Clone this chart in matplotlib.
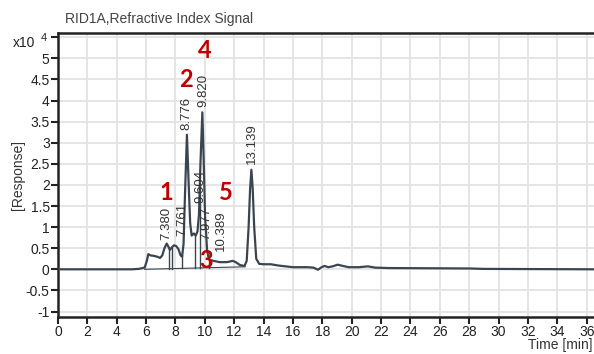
import numpy as np
import matplotlib
matplotlib.use('Agg')
import matplotlib.pyplot as plt

plt.rcParams['font.family'] = ['Liberation Sans', 'DejaVu Sans']

# traced RID signal, time in min, response in x10^4
time = [0.0, 5.0, 5.5, 5.9, 6.05, 6.15, 6.3, 6.5, 6.75, 6.95, 7.1, 7.25, 7.4, 7.5,
        7.62, 7.75, 7.9, 8.05, 8.2, 8.35, 8.45, 8.55, 8.65, 8.78, 8.9, 9.0, 9.1,
        9.25, 9.38, 9.5, 9.6, 9.7, 9.83, 9.92, 9.97, 10.02, 10.08, 10.15, 10.25,
        10.35, 10.6, 11.0, 11.5, 11.9, 12.1, 12.4, 12.7, 12.85, 12.98, 13.08,
        13.17, 13.26, 13.36, 13.5, 13.7, 14.0, 14.5, 15.0, 15.5, 16.0, 17.0,
        17.4, 17.7, 17.95, 18.15, 18.4, 18.7, 19.05, 19.4, 19.8, 20.5, 21.1,
        21.6, 22.5, 28.0, 29.0, 36.5]
resp = [0.0, 0.0, 0.01, 0.04, 0.2, 0.36, 0.33, 0.32, 0.30, 0.27, 0.33, 0.5, 0.61, 0.55,
        0.46, 0.52, 0.57, 0.55, 0.48, 0.33, 0.30, 0.6, 1.8, 3.19, 2.0, 1.1, 0.8,
        0.85, 0.8, 0.9, 1.3, 2.5, 3.72, 2.6, 1.9, 1.2, 0.9, 0.45, 0.28,
        0.22, 0.20, 0.17, 0.17, 0.20, 0.17, 0.10, 0.08, 0.2, 1.0, 1.9,
        2.36, 1.9, 1.0, 0.25, 0.13, 0.12, 0.12, 0.09, 0.07, 0.05, 0.05,
        0.04, -0.01, 0.05, 0.08, 0.05, 0.07, 0.11, 0.08, 0.05, 0.05, 0.07,
        0.04, 0.03, 0.02, 0.01, 0.0]

# integration baseline and drop lines
base_t = [5.9, 12.75]
base_v = [0.0, 0.06]
drop_t = [7.57, 7.73, 8.46, 9.35, 9.66, 10.3]

# peak labels (retention times) and where they sit
peak_txt = ['7.380', '7.761', '8.776', '9.820', '9.604', '7.977', '10.389', '13.139']
peak_x = [7.39, 8.46, 8.75, 9.89, 9.71, 10.11, 11.07, 13.18]
peak_y = [0.70, 0.78, 3.30, 3.85, 1.58, 0.70, 0.43, 2.50]

# red fraction numbers
frac_txt = ['1', '2', '3', '4', '5']
frac_x = [7.39, 8.71, 10.07, 9.99, 11.43]
frac_y = [1.81, 4.49, 0.21, 5.18, 1.81]

fig = plt.figure(figsize=(5.94, 3.54), dpi=100)
ax = fig.add_axes([58/594, 1-317/354, 1-58/594, (317-33)/354])

ax.plot(time, resp, color='#3b4550', lw=1.6, zorder=3)
ax.plot(base_t, base_v, color='#3b4550', lw=0.8, zorder=2)
for t in drop_t:
    lo = np.interp(t, base_t, base_v)
    hi = np.interp(t, time, resp)
    ax.plot([t, t], [lo, hi], color='#3b4550', lw=1.0, zorder=2)

for s, x, y in zip(peak_txt, peak_x, peak_y):
    ax.text(x, y, s, rotation=90, ha='center', va='bottom', fontsize=9.5, color='#333333', zorder=4)

for s, x, y in zip(frac_txt, frac_x, frac_y):
    ax.text(x, y, s, ha='center', va='center', fontsize=17, fontweight='bold',
            color='#c00000', family=['Lato', 'DejaVu Sans'], zorder=5)

ax.set_xlim(0, 36.5)
ax.set_ylim(-1.13, 5.60)
ax.set_xticks(np.arange(0, 37, 2))
yt = np.arange(-1, 5.51, 0.5)
ax.set_yticks(yt)
ylab = ['%g' % v for v in yt]
ylab[-1] = ''
ax.set_yticklabels(ylab)
ax.grid(True, color='#e3e3e3', lw=1.3)
ax.set_axisbelow(True)

ax.tick_params(direction='out', length=5, width=1.5, color='#222222', labelsize=10,
               labelcolor='#222222', pad=1)
for side in ['left', 'bottom', 'top']:
    ax.spines[side].set_linewidth(1.8)
    ax.spines[side].set_color('#222222')
ax.spines['right'].set_visible(False)

fig.text(18/594, 1-175/354, '[Response]', fontsize=10, color='#333333', rotation=90,
         ha='center', va='center')
fig.text(13/594, 1-43/354, 'x10', fontsize=10, color='#222222', va='center')
fig.text(41/594, 1-38/354, '4', fontsize=8, color='#222222', va='center')
fig.text(65/594, 1-19/354, 'RID1A,Refractive Index Signal', fontsize=10, color='#444444', va='center')
fig.text(593/594, 1-345/354, 'Time [min]', fontsize=10, color='#333333', ha='right', va='center')

fig.savefig('out.png', dpi=100)
